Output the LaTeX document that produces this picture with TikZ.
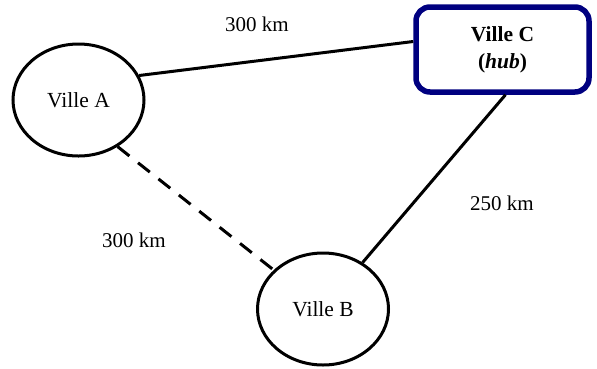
\documentclass[tikz,border=0pt]{standalone}
\usepackage{fontspec}
\setmainfont{Liberation Serif}
\usetikzlibrary{shapes.geometric}
\begin{document}
\begin{tikzpicture}[x=1pt,y=-1pt,
  city/.style={ellipse,draw,line width=3pt,minimum width=131pt,minimum height=112pt,inner sep=0pt,font=\fontsize{21.5}{25}\selectfont},
  hubbox/.style={draw={rgb,255:red,0;green,0;blue,128},line width=5.5pt,rounded corners=14pt,minimum width=173pt,minimum height=85pt,inner sep=0pt,align=center,font=\fontsize{21.5}{27}\selectfont},
  road/.style={line width=3pt},
  lbl/.style={font=\fontsize{21}{25}\selectfont,inner sep=0pt}]
\useasboundingbox (0,0) rectangle (597,368);
\node[city] (a) at (78.5,100) {Ville A};
\node[city] (b) at (323,309) {Ville B};
\node[hubbox] (c) at (502.5,49.5) {\textbf{Ville C}\\\textbf{(\textit{hub})}};
\draw[road] (a.22) -- ([yshift=8pt]c.west);
\draw[road] ([xshift=3pt]c.south) -- (b);
\draw[road,dash pattern=on 15pt off 11pt] (a.-50) -- (b);
\node[lbl] (l1) at (257,24) {300 km};
\node[lbl] (l2) at (134,240) {300 km};
\node[lbl] (l3) at (502,203) {250 km};
\end{tikzpicture}
\end{document}
